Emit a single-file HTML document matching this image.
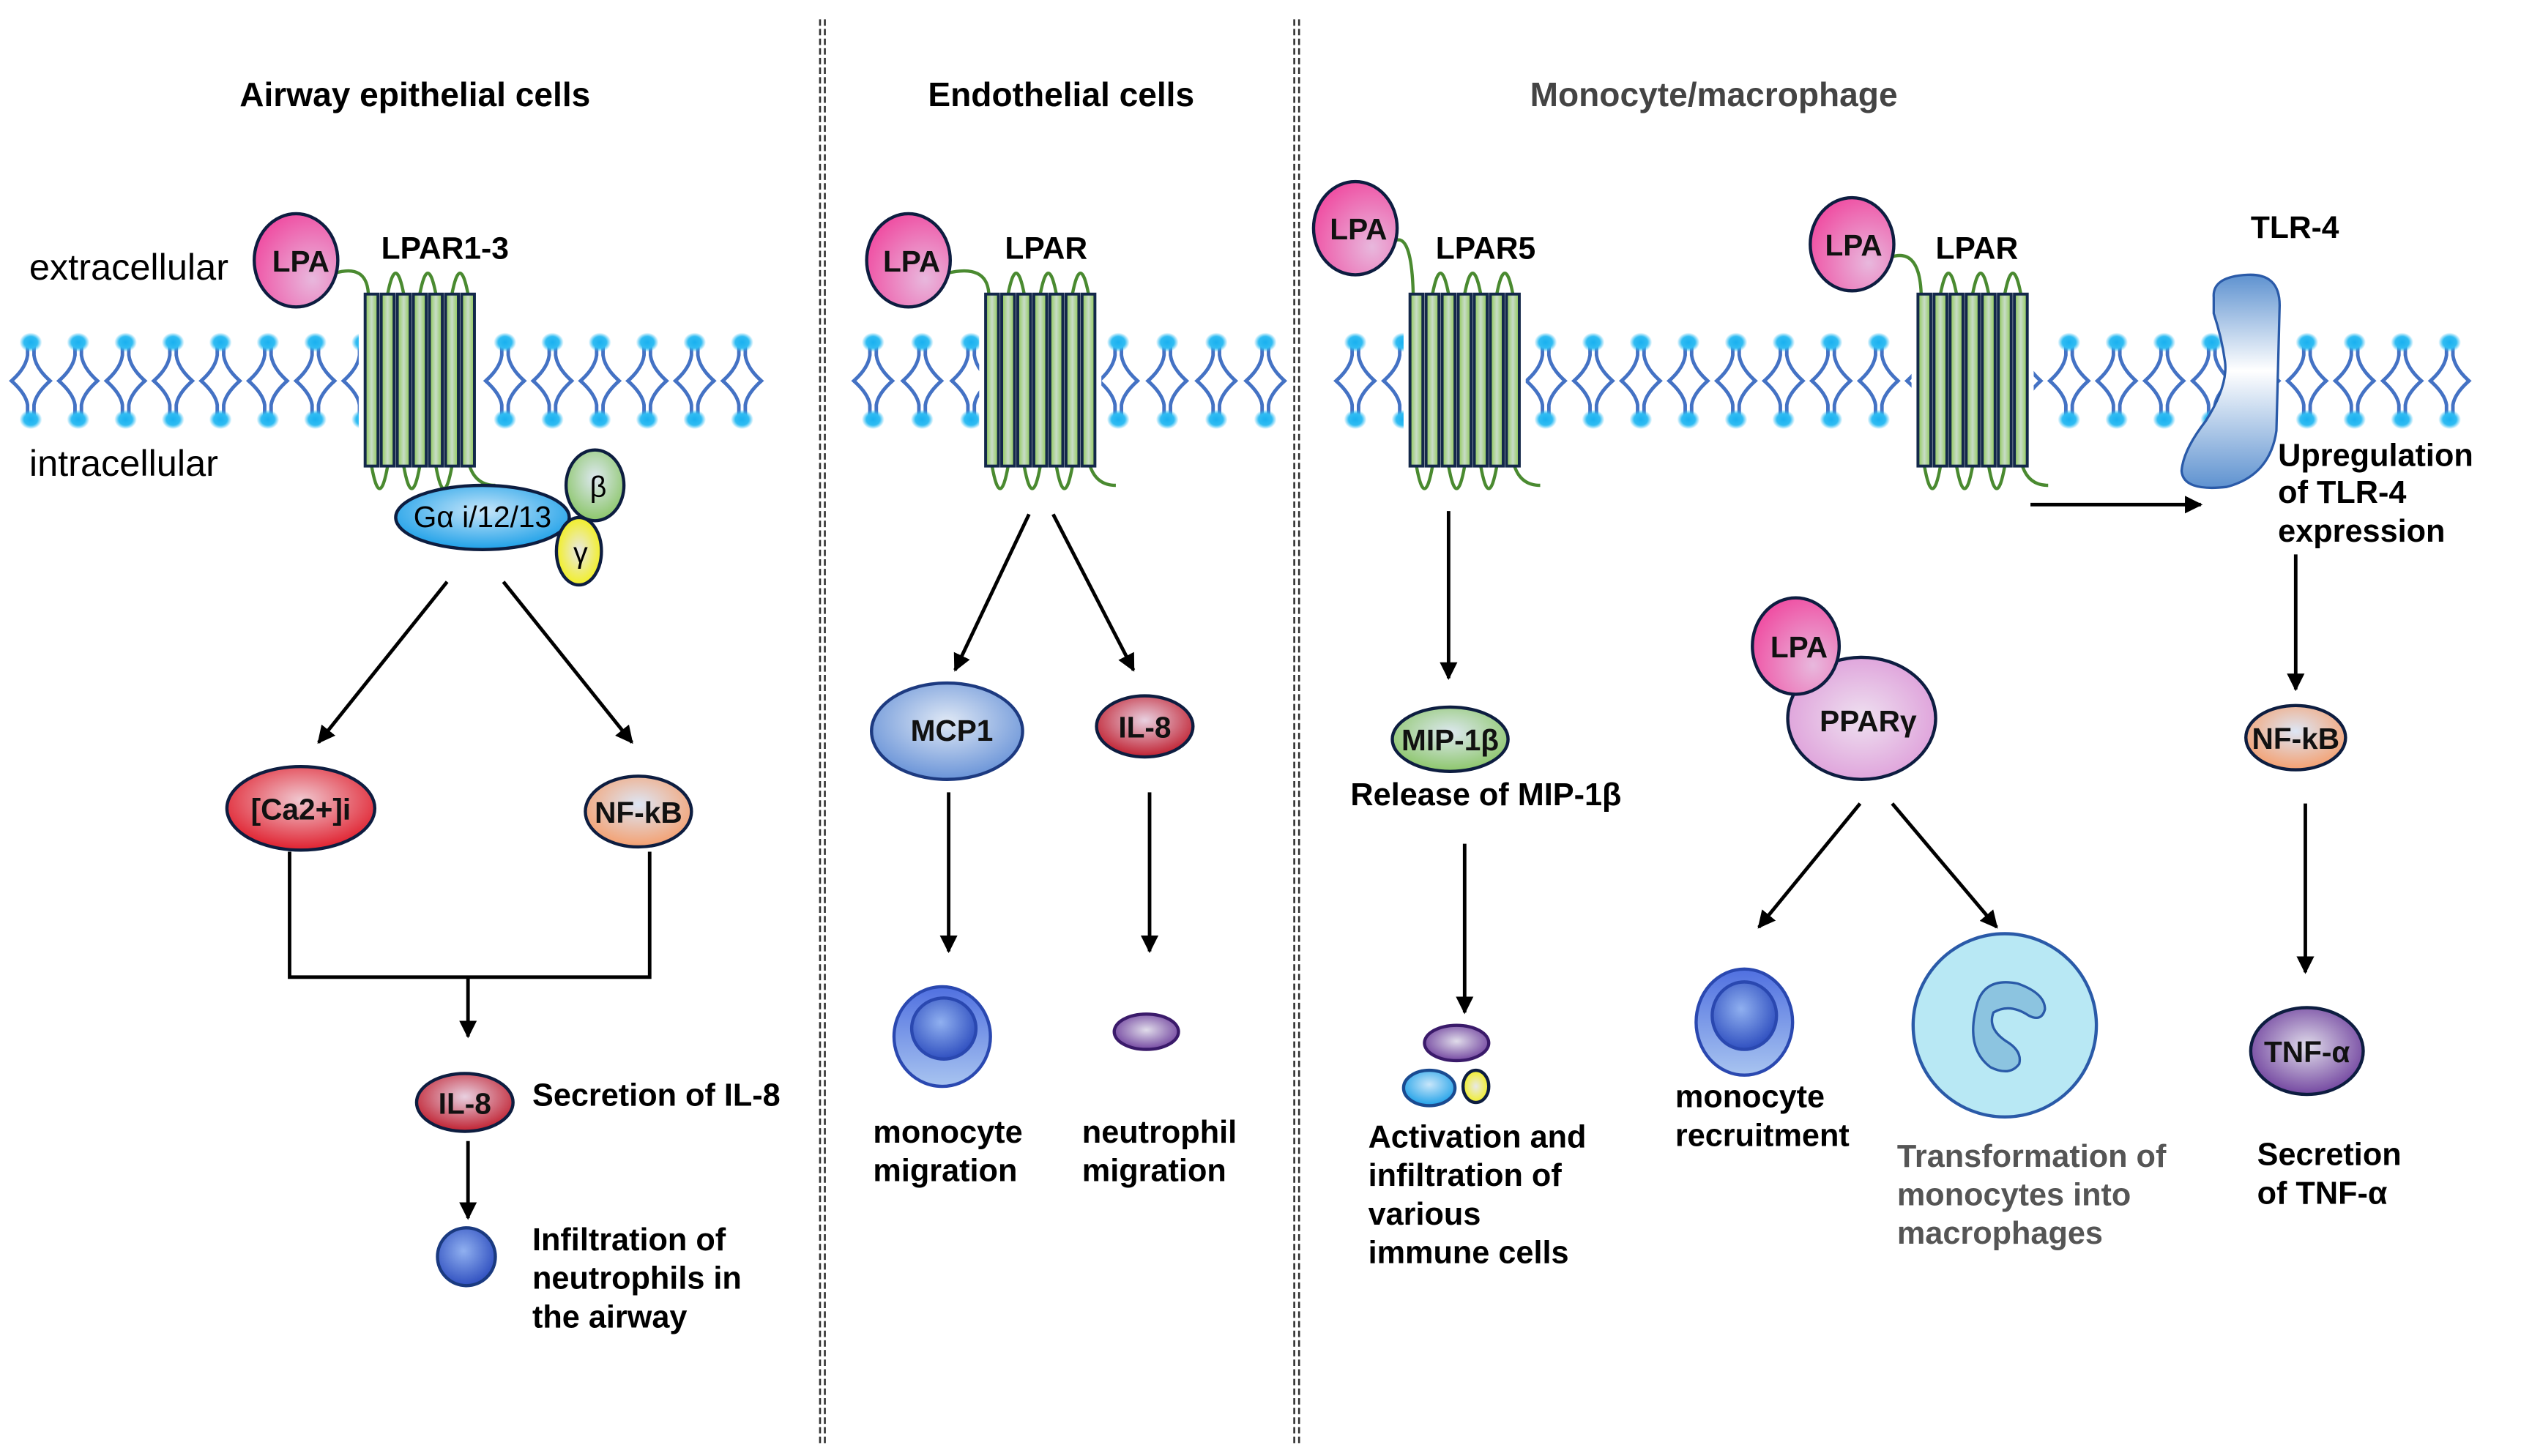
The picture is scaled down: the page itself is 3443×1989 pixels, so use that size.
<!DOCTYPE html>
<html><head><meta charset="utf-8"><style>
html,body{margin:0;padding:0;background:#fff}
svg{display:block}
text{font-family:"Liberation Sans",sans-serif}
.b{font-weight:bold;font-size:19.7px;fill:#000}
.lbl{font-weight:bold;font-size:18.5px;fill:#111;text-anchor:middle}
</style></head><body>
<svg id="s" width="3443" height="1989" viewBox="0 0 1568 906" xmlns="http://www.w3.org/2000/svg">
<defs>
<radialGradient id="pink" cx="0.7" cy="0.7" r="0.8"><stop offset="0" stop-color="#e8b8dd"/><stop offset="1" stop-color="#f04aa0"/></radialGradient>
<radialGradient id="ppar" cx="0.5" cy="0.5" r="0.6"><stop offset="0" stop-color="#eee0f0"/><stop offset="1" stop-color="#dd9ad8"/></radialGradient>
<radialGradient id="blue" cx="0.5" cy="0.4" r="0.6"><stop offset="0" stop-color="#c8e6fa"/><stop offset="1" stop-color="#1da0e8"/></radialGradient>
<radialGradient id="blue2" cx="0.5" cy="0.4" r="0.6"><stop offset="0" stop-color="#dfe8f5"/><stop offset="1" stop-color="#6a94d8"/></radialGradient>
<radialGradient id="green" cx="0.5" cy="0.4" r="0.6"><stop offset="0" stop-color="#dde8f0"/><stop offset="1" stop-color="#8cc66a"/></radialGradient>
<radialGradient id="yellow" cx="0.5" cy="0.5" r="0.6"><stop offset="0" stop-color="#e8e8e8"/><stop offset="1" stop-color="#f4f000"/></radialGradient>
<radialGradient id="red" cx="0.5" cy="0.4" r="0.6"><stop offset="0" stop-color="#f0c8d0"/><stop offset="1" stop-color="#e0202e"/></radialGradient>
<radialGradient id="red2" cx="0.5" cy="0.4" r="0.6"><stop offset="0" stop-color="#e8d0e0"/><stop offset="1" stop-color="#c02030"/></radialGradient>
<radialGradient id="orange" cx="0.5" cy="0.4" r="0.6"><stop offset="0" stop-color="#dde6f5"/><stop offset="1" stop-color="#f4a070"/></radialGradient>
<radialGradient id="purple" cx="0.5" cy="0.45" r="0.6"><stop offset="0" stop-color="#e0dcea"/><stop offset="1" stop-color="#6a3a9a"/></radialGradient>
<radialGradient id="mono" cx="0.45" cy="0.4" r="0.6"><stop offset="0" stop-color="#90b0f0"/><stop offset="1" stop-color="#3050c0"/></radialGradient>
<linearGradient id="monoOut" x1="0" y1="0" x2="0" y2="1"><stop offset="0" stop-color="#5070e0"/><stop offset="1" stop-color="#a8c4f0"/></linearGradient>
<linearGradient id="tlr" x1="0" y1="0" x2="0" y2="1"><stop offset="0" stop-color="#5e92d0"/><stop offset="0.45" stop-color="#ffffff"/><stop offset="1" stop-color="#5e92d0"/></linearGradient>
<linearGradient id="bar" x1="0" y1="0" x2="1" y2="0"><stop offset="0" stop-color="#8cc850"/><stop offset="0.5" stop-color="#c8dcc8"/><stop offset="1" stop-color="#8cc850"/></linearGradient>
<radialGradient id="head"><stop offset="0" stop-color="#1ab0f0"/><stop offset="0.6" stop-color="#30bcf2"/><stop offset="1" stop-color="#30bcf2" stop-opacity="0"/></radialGradient>
<marker id="ar" viewBox="0 0 10 10" refX="9" refY="5" markerWidth="5" markerHeight="5" orient="auto"><path d="M0,0 L10,5 L0,10 z" fill="#000"/></marker>
</defs>
<g id="mem"></g>
<g id="rec"></g>

<g stroke="#333" stroke-width="1.2" stroke-dasharray="4,2">
<line x1="510" y1="12" x2="510" y2="898"/><line x1="513" y1="12" x2="513" y2="898"/>
<line x1="805" y1="12" x2="805" y2="898"/><line x1="808" y1="12" x2="808" y2="898"/>
</g>

<text x="258" y="66" class="b" text-anchor="middle" style="font-size:21px">Airway epithelial cells</text>
<text x="660" y="66" class="b" text-anchor="middle" style="font-size:21px">Endothelial cells</text>
<text x="1066" y="66" class="b" text-anchor="middle" style="font-size:21px;fill:#444">Monocyte/macrophage</text>

<text x="18" y="174" style="font-size:23px">extracellular</text>
<text x="18" y="296" style="font-size:23px">intracellular</text>

<path d="M1377,185 Q1376,172 1398,171 Q1418,170 1418,190 L1416,268 Q1412,296 1385,303 Q1358,306 1357,293 Q1358,280 1372,262 Q1386,240 1384,225 Q1382,210 1377,195 Z" fill="url(#tlr)" stroke="#2a5aa8" stroke-width="1.5"/>

<g stroke="#0d1d40" stroke-width="2">
<ellipse cx="184" cy="162" rx="26" ry="29" fill="url(#pink)"/>
<ellipse cx="370" cy="302" rx="18" ry="22" fill="url(#green)"/>
<ellipse cx="300" cy="322" rx="54" ry="20" fill="url(#blue)"/>
<ellipse cx="360" cy="343" rx="14" ry="21" fill="url(#yellow)"/>
<ellipse cx="187" cy="503" rx="46" ry="26" fill="url(#red)"/>
<ellipse cx="397" cy="505" rx="33" ry="22" fill="url(#orange)"/>
<ellipse cx="289" cy="686" rx="30" ry="18" fill="url(#red2)"/>
<circle cx="290" cy="782" r="18" fill="url(#mono)" stroke="#1a3a80"/>
<ellipse cx="565" cy="162" rx="26" ry="29" fill="url(#pink)"/>
<ellipse cx="589" cy="455" rx="47" ry="30" fill="url(#blue2)" stroke="#1d3a80"/>
<ellipse cx="712" cy="452" rx="30" ry="19" fill="url(#red2)"/>
<ellipse cx="586" cy="645" rx="30" ry="31" fill="url(#monoOut)" stroke="#2a48b0"/>
<ellipse cx="587" cy="640" rx="20" ry="19" fill="url(#mono)" stroke="#2a48b0"/>
<ellipse cx="713" cy="642" rx="20" ry="11" fill="url(#purple)" stroke="#3a1a6a"/>
<ellipse cx="843" cy="142" rx="26" ry="29" fill="url(#pink)"/>
<ellipse cx="1152" cy="152" rx="26" ry="29" fill="url(#pink)"/>
<ellipse cx="902" cy="460" rx="36" ry="20" fill="url(#green)"/>
<ellipse cx="906" cy="649" rx="20" ry="11" fill="url(#purple)" stroke="#3a1a6a"/>
<ellipse cx="889" cy="677" rx="16" ry="11" fill="url(#blue)" stroke="#1a4a90"/>
<ellipse cx="918" cy="676" rx="8" ry="10" fill="url(#yellow)"/>
<ellipse cx="1158" cy="447" rx="46" ry="38" fill="url(#ppar)"/>
<ellipse cx="1117" cy="402" rx="27" ry="30" fill="url(#pink)"/>
<ellipse cx="1085" cy="636" rx="30" ry="33" fill="url(#monoOut)" stroke="#2a48b0"/>
<ellipse cx="1085" cy="632" rx="20" ry="21" fill="url(#mono)" stroke="#2a48b0"/>
<circle cx="1247" cy="638" r="57" fill="#b8e8f4" stroke="#2a5aa8"/>
<path d="M1230,624 Q1235,608 1255,612 Q1272,618 1272,628 Q1270,636 1262,632 Q1250,624 1240,630 Q1236,640 1248,648 Q1258,654 1256,662 Q1250,670 1238,664 Q1222,652 1230,624 Z" fill="#8cc4e0" stroke="#2a5aa8" stroke-width="1.5"/>
<ellipse cx="1428" cy="459" rx="31" ry="20" fill="url(#orange)"/>
<ellipse cx="1435" cy="654" rx="35" ry="27" fill="url(#purple)"/>
</g>

<g>
<text x="187" y="169" class="lbl">LPA</text>
<text x="567" y="169" class="lbl">LPA</text>
<text x="845" y="149" class="lbl">LPA</text>
<text x="1153" y="159" class="lbl">LPA</text>
<text x="1119" y="409" class="lbl">LPA</text>
<text x="372" y="309" style="font-size:18px;text-anchor:middle">β</text>
<text x="361" y="350" style="font-size:18px;text-anchor:middle">γ</text>
<text x="300" y="328" style="font-size:18.5px;text-anchor:middle">Gα i/12/13</text>
<text x="187" y="510" class="lbl">[Ca2+]i</text>
<text x="397" y="512" class="lbl">NF-kB</text>
<text x="289" y="693" class="lbl">IL-8</text>
<text x="592" y="461" class="lbl">MCP1</text>
<text x="712" y="459" class="lbl">IL-8</text>
<text x="902" y="467" class="lbl">MIP-1β</text>
<text x="1162" y="455" class="lbl">PPARγ</text>
<text x="1428" y="466" class="lbl">NF-kB</text>
<text x="1435" y="661" class="lbl">TNF-α</text>
</g>

<g>
<text x="237" y="161" class="b" style="font-size:19.4px">LPAR1-3</text>
<text x="625" y="161" class="b" style="font-size:19.4px">LPAR</text>
<text x="893" y="161" class="b" style="font-size:19.4px">LPAR5</text>
<text x="1204" y="161" class="b" style="font-size:19.4px">LPAR</text>
<text x="1400" y="148" class="b" style="font-size:19.4px">TLR-4</text>
</g>

<g>
<text x="331" y="688" class="b">Secretion of IL-8</text>
<text x="331" y="778" class="b">Infiltration of</text>
<text x="331" y="802" class="b">neutrophils in</text>
<text x="331" y="826" class="b">the airway</text>
<text x="543" y="711" class="b">monocyte</text>
<text x="543" y="735" class="b">migration</text>
<text x="673" y="711" class="b">neutrophil</text>
<text x="673" y="735" class="b">migration</text>
<text x="840" y="501" class="b">Release of MIP-1β</text>
<text x="851" y="714" class="b">Activation and</text>
<text x="851" y="738" class="b">infiltration of</text>
<text x="851" y="762" class="b">various</text>
<text x="851" y="786" class="b">immune cells</text>
<text x="1042" y="689" class="b">monocyte</text>
<text x="1042" y="713" class="b">recruitment</text>
<text x="1180" y="726" class="b" style="fill:#555">Transformation of</text>
<text x="1180" y="750" class="b" style="fill:#555">monocytes into</text>
<text x="1180" y="774" class="b" style="fill:#555">macrophages</text>
<text x="1417" y="290" class="b">Upregulation</text>
<text x="1417" y="313" class="b">of TLR-4</text>
<text x="1417" y="337" class="b">expression</text>
<text x="1404" y="725" class="b">Secretion</text>
<text x="1404" y="749" class="b">of TNF-α</text>
</g>

<g stroke="#000" stroke-width="2.2" fill="none" marker-end="url(#ar)">
<line x1="278" y1="362" x2="198" y2="462"/>
<line x1="313" y1="362" x2="393" y2="462"/>
<line x1="291" y1="608" x2="291" y2="645"/>
<line x1="291" y1="710" x2="291" y2="758"/>
<line x1="640" y1="320" x2="594" y2="417"/>
<line x1="655" y1="320" x2="705" y2="417"/>
<line x1="590" y1="493" x2="590" y2="592"/>
<line x1="715" y1="493" x2="715" y2="592"/>
<line x1="901" y1="318" x2="901" y2="422"/>
<line x1="911" y1="525" x2="911" y2="630"/>
<line x1="1157" y1="500" x2="1094" y2="577"/>
<line x1="1177" y1="500" x2="1242" y2="577"/>
<line x1="1263" y1="314" x2="1369" y2="314"/>
<line x1="1428" y1="345" x2="1428" y2="429"/>
<line x1="1434" y1="500" x2="1434" y2="605"/>
</g>
<path d="M180,530 V608 H404 V530" stroke="#000" stroke-width="2.2" fill="none"/>
</svg>
<script>
var NS="http://www.w3.org/2000/svg";
var mem=document.getElementById("mem"),rec=document.getElementById("rec");
function el(p,t,a){var e=document.createElementNS(NS,t);for(var k in a)e.setAttribute(k,a[k]);p.appendChild(e);return e;}
function lipid(x){
 var d="M"+(x-2)+",215 V221 Q"+(x-3)+",229 "+(x-12)+",237 Q"+(x-3)+",245 "+(x-2)+",252 V259 M"+(x+2)+",215 V221 Q"+(x+3)+",229 "+(x+12)+",237 Q"+(x+3)+",245 "+(x+2)+",252 V259";
 el(mem,"path",{d:d,stroke:"#4472c4","stroke-width":"2.2",fill:"none"});
 el(mem,"ellipse",{cx:x,cy:213,rx:7,ry:6,fill:"url(#head)"});
 el(mem,"ellipse",{cx:x,cy:261,rx:7,ry:6,fill:"url(#head)"});
}
function row(a,b,step){for(var x=a;x<=b+0.1;x+=step)lipid(x);}
row(19,479,29.5);row(543,787,30.5);row(843,1553,29.6);
function receptor(x0,top,bot,lpaX,lpaY){
 var w=10;
 el(rec,"rect",{x:x0-3,y:top,width:7*w+6,height:bot-top,fill:"#fff"});
 el(rec,"path",{d:"M"+(lpaX+24)+","+(lpaY+8)+" Q"+(x0+2)+","+(lpaY+2)+" "+(x0+3)+","+top,stroke:"#4a8a30","stroke-width":"2",fill:"none"});
 for(var i=0;i<6;i++){
  var cx=x0+i*w+w/2;
  if(i%2==0) el(rec,"path",{d:"M"+cx+","+bot+" Q"+(cx+w/2)+","+(bot+28)+" "+(cx+w)+","+bot,stroke:"#4a8a30","stroke-width":"2",fill:"none"});
  else el(rec,"path",{d:"M"+cx+","+top+" Q"+(cx+w/2)+","+(top-26)+" "+(cx+w)+","+top,stroke:"#4a8a30","stroke-width":"2",fill:"none"});
 }
 el(rec,"path",{d:"M"+(x0+7*w-4)+","+bot+" Q"+(x0+7*w)+","+(bot+12)+" "+(x0+7*w+12)+","+(bot+12),stroke:"#4a8a30","stroke-width":"2",fill:"none"});
 for(var i=0;i<7;i++){
  el(rec,"rect",{x:x0+i*w+1,y:top,width:w-2,height:bot-top,fill:"url(#bar)",stroke:"#13284a","stroke-width":"1.8"});
 }
}
receptor(226,183,290,184,162);
receptor(612,183,290,565,162);
receptor(876,183,290,843,142);
receptor(1192,183,290,1152,152);
</script>
</body></html>
